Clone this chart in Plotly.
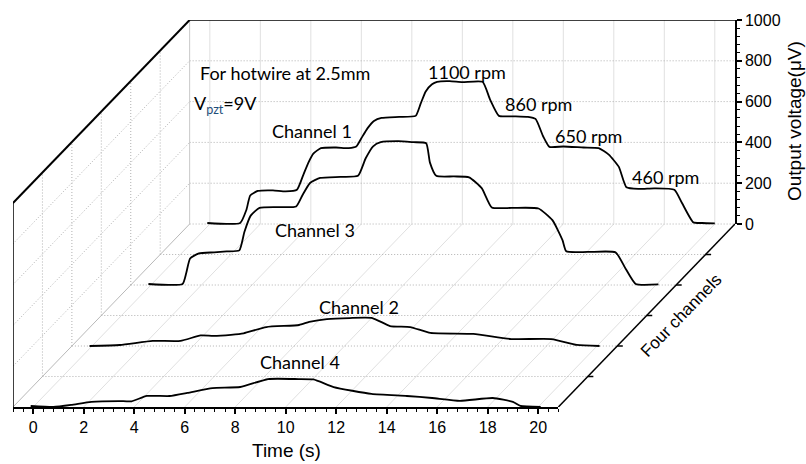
import plotly.graph_objects as go

# ---------------- data ----------------
t_ch1 = [-0.1, 1.2, 1.45, 1.6, 1.9, 2.5, 3.0, 3.45, 3.7, 3.9, 4.1, 4.4, 5.0, 5.5, 5.8, 6.0, 6.25, 6.5,
         6.8, 7.5, 8.15, 8.35, 8.55, 8.8, 9.0, 9.5, 10.0, 10.8, 11.1, 11.45, 12.0, 12.6, 12.9, 13.2,
         13.45, 14.0, 14.8, 15.4, 15.8, 16.2, 16.5, 17.0, 17.6, 18.4, 18.7, 19.15, 19.5, 20.0]
v_ch1 = [5, 5, 70, 140, 162, 165, 160, 168, 240, 300, 345, 372, 375, 372, 380, 420, 470, 505,
         520, 525, 530, 590, 650, 685, 697, 700, 695, 697, 610, 530, 528, 525, 515, 430,
         378, 380, 375, 372, 340, 280, 180, 172, 175, 168, 103, 8, 5, 3]

t_ch3 = [-0.1, 1.25, 1.4, 1.55, 1.9, 2.5, 3.0, 3.5, 3.7, 3.95, 4.3, 5.0, 5.75, 6.0, 6.3, 6.7, 7.5,
         8.2, 8.5, 8.8, 9.1, 9.8, 10.4, 10.9, 11.05, 11.3, 12.0, 12.6, 13.1, 13.5, 14.3, 15.35,
         15.9, 16.3, 16.45, 17.3, 18.4, 18.8, 19.2, 20.1]
v_ch3 = [5, 5, 60, 130, 155, 160, 165, 170, 260, 340, 378, 382, 385, 440, 500, 525, 530,
         535, 620, 680, 700, 705, 700, 695, 600, 535, 532, 528, 475, 380, 378, 375,
         318, 220, 165, 162, 160, 80, 5, 3]

t_ch2 = [-0.1, 1.1, 2.4, 3.5, 4.3, 4.8, 5.5, 6.0, 6.9, 8.2, 8.6, 9.3, 10.2, 11.1, 11.8, 12.6,
         13.4, 15.1, 16.6, 18.2, 19.2, 20.1]
v_ch2 = [0, 5, 25, 25, 52, 50, 55, 62, 93, 103, 118, 132, 137, 137, 98, 93,
         64, 59, 34, 34, 5, 0]

t_ch4 = [-0.1, 0.8, 1.5, 2.3, 3.4, 3.9, 4.5, 5.4, 6.1, 7.1, 8.2, 9.3, 10.5, 11.1, 11.9, 13.4,
         14.8, 15.8, 16.9, 18.2, 19.0, 19.3, 20.1]
v_ch4 = [5, 0, 10, 25, 29, 28, 54, 54, 69, 93, 98, 137, 137, 135, 98, 64,
         54, 44, 30, 44, 25, 5, 0]

channel_names = ["Channel 4", "Channel 2", "Channel 3", "Channel 1"]
channel_depth = [0, 2, 4, 6]
channel_t = [t_ch4, t_ch2, t_ch3, t_ch1]
channel_v = [v_ch4, v_ch2, v_ch3, v_ch1]

time_ticks = list(range(0, 21, 2))
volt_ticks = [0, 200, 400, 600, 800, 1000]
depth_ticks = [1, 2, 3, 4, 5]
rpm_labels = ["1100 rpm", "860 rpm", "650 rpm", "460 rpm"]

# ---------------- oblique projection geometry ----------------
T_MIN, T_MAX = -0.8, 20.8
V_MIN, V_MAX = 0, 1000
D_MAX = 6
DX = 1.166   # time units shifted per depth unit
DY = 149.5   # µV shifted per depth unit
X_MAX = T_MAX + D_MAX * DX
Y_MAX = V_MAX + D_MAX * DY

# plot-area pixel frame (for text placement)
PL, PR, PT, PB = 13, 735, 20, 407
W, H = 806, 464


def px(x):
    return (x - PL) / (PR - PL)


def py(y):
    return (PB - y) / (PB - PT)


def proj(t, v, d):
    return t + d * DX, v + d * DY


def segs(seglist):
    xs, ys = [], []
    for seg in seglist:
        for (t, v, d) in seg:
            X, Y = proj(t, v, d)
            xs.append(X)
            ys.append(Y)
        xs.append(None)
        ys.append(None)
    return xs, ys


fig = go.Figure()


def add_lines(seglist, color, width, dash="solid"):
    xs, ys = segs(seglist)
    fig.add_trace(go.Scatter(x=xs, y=ys, mode="lines",
                             line=dict(color=color, width=width, dash=dash),
                             hoverinfo="skip", showlegend=False))


grid_v = [v for v in volt_ticks if V_MIN < v < V_MAX]
DOT = "1px,2px"

# floor
add_lines([[(t, 0, 0), (t, 0, D_MAX)] for t in time_ticks], "#e0e0e0", 1)
add_lines([[(T_MIN, 0, d), (T_MAX, 0, d)] for d in depth_ticks + [D_MAX]], "#b0b0b0", 1, DOT)
add_lines([[(T_MIN, 0, 0), (T_MIN, 0, D_MAX)]], "#b8b8b8", 1)
# left wall
add_lines([[(T_MIN, v, 0), (T_MIN, v, D_MAX)] for v in grid_v], "#b0b0b0", 1, DOT)
add_lines([[(T_MIN, V_MIN, d), (T_MIN, V_MAX, d)] for d in depth_ticks], "#b0b0b0", 1, DOT)
# back wall
add_lines([[(t, V_MIN, D_MAX), (t, V_MAX, D_MAX)] for t in time_ticks], "#e0e0e0", 1)
add_lines([[(T_MIN, v, D_MAX), (T_MAX, v, D_MAX)] for v in grid_v], "#b0b0b0", 1, DOT)
add_lines([[(T_MIN, V_MIN, D_MAX), (T_MIN, V_MAX, D_MAX)]], "#c8c8c8", 1)
# box edges
add_lines([[(T_MIN, V_MIN, 0), (T_MIN, V_MAX, 0)]], "black", 1.5)
add_lines([[(T_MIN, V_MAX, 0), (T_MIN, V_MAX, D_MAX)]], "black", 2)
add_lines([[(T_MIN, V_MAX, D_MAX), (T_MAX, V_MAX, D_MAX)]], "black", 1.5)
# depth axis with ticks
add_lines([[(T_MAX, 0, 0), (T_MAX, 0, D_MAX)]], "black", 1.5)
add_lines([[(T_MAX, 0, d), (T_MAX + 0.22, 0, d)] for d in depth_ticks], "black", 1.5)

# channel curves
for name, d, ts, vs in zip(channel_names, channel_depth, channel_t, channel_v):
    xs, ys = zip(*[proj(t, v, d) for t, v in zip(ts, vs)])
    fig.add_trace(go.Scatter(x=list(xs), y=list(ys), mode="lines", name=name,
                             line=dict(color="black", width=1.8, shape="spline", smoothing=0.5),
                             hoverinfo="skip", showlegend=False))

# invisible anchors for the displayed axes
fig.add_trace(go.Scatter(x=[T_MIN, T_MAX], y=[0, 0], xaxis="x2", yaxis="y", mode="markers",
                         marker=dict(opacity=0), hoverinfo="skip", showlegend=False))
fig.add_trace(go.Scatter(x=[0, 0], y=[V_MIN, V_MAX], xaxis="x", yaxis="y2", mode="markers",
                         marker=dict(opacity=0), hoverinfo="skip", showlegend=False))

AX_FAMILY = "Liberation Sans"
axis_font = dict(family=AX_FAMILY, size=16, color="black")

fig.update_layout(
    width=W, height=H,
    margin=dict(l=PL, r=W - PR, t=PT, b=H - PB, pad=0),
    paper_bgcolor="white", plot_bgcolor="rgba(0,0,0,0)",
    showlegend=False,
    font=dict(family=AX_FAMILY, color="black"),
    xaxis=dict(range=[T_MIN, X_MAX], visible=False, domain=[0, 1], fixedrange=True),
    yaxis=dict(range=[0, Y_MAX], visible=False, domain=[0, 1], fixedrange=True),
    xaxis2=dict(range=[T_MIN, T_MAX], domain=[0, (T_MAX - T_MIN) / (X_MAX - T_MIN)],
                anchor="y", side="bottom", showline=True, linecolor="black", linewidth=1.5,
                ticks="outside", ticklen=5, tickwidth=1.5, tickcolor="black",
                tickmode="array", tickvals=time_ticks, ticktext=[str(t) for t in time_ticks],
                minor=dict(dtick=0.4, tick0=0, ticks="outside", ticklen=3, tickwidth=1,
                           tickcolor="black", showgrid=False),
                showgrid=False, zeroline=False, tickfont=axis_font, automargin=False,
                fixedrange=True),
    yaxis2=dict(range=[V_MIN, V_MAX], domain=[D_MAX * DY / Y_MAX, 1], anchor="x",
                side="right", showline=True, linecolor="black", linewidth=1.5,
                ticks="outside", ticklen=5, tickwidth=1.5, tickcolor="black",
                tickmode="array", tickvals=volt_ticks, ticktext=[str(v) for v in volt_ticks],
                minor=dict(dtick=40, tick0=0, ticks="outside", ticklen=3, tickwidth=1,
                           tickcolor="black", showgrid=False),
                showgrid=False, zeroline=False, tickfont=axis_font, automargin=False,
                fixedrange=True),
)

txt_font = dict(family="Lato", size=18, color="black")
ann = []


def add_text(text, x, y, font=txt_font, angle=0, xanchor="center"):
    ann.append(dict(text=text, x=px(x), y=py(y), xref="paper", yref="paper",
                    showarrow=False, xanchor=xanchor, yanchor="middle",
                    textangle=angle, font=font))


add_text("For hotwire at 2.5mm", 285, 73)
add_text("V<sub><span style='color:#1f4e79'>pzt</span></sub>=9V", 192, 104, xanchor="left")
label_pos = {"Channel 1": (312, 131), "Channel 3": (315, 230),
             "Channel 2": (359, 307), "Channel 4": (300, 362)}
for name in channel_names:
    add_text(name, *label_pos[name])
rpm_pos = [(467, 72), (538, 104), (588, 136), (665, 177)]
for lab, (x, y) in zip(rpm_labels, rpm_pos):
    add_text(lab, x, y)

title_font = dict(family=AX_FAMILY, size=19, color="black")
add_text("Time (s)", 286, 451, font=title_font)
add_text("Output voltage(μV)", 795, 121, font=title_font, angle=-90)
add_text("Four channels", 681, 315, font=dict(family=AX_FAMILY, size=17, color="black"),
         angle=-46)

fig.update_layout(annotations=ann)
fig.write_html("out.html", config={"displayModeBar": False})
